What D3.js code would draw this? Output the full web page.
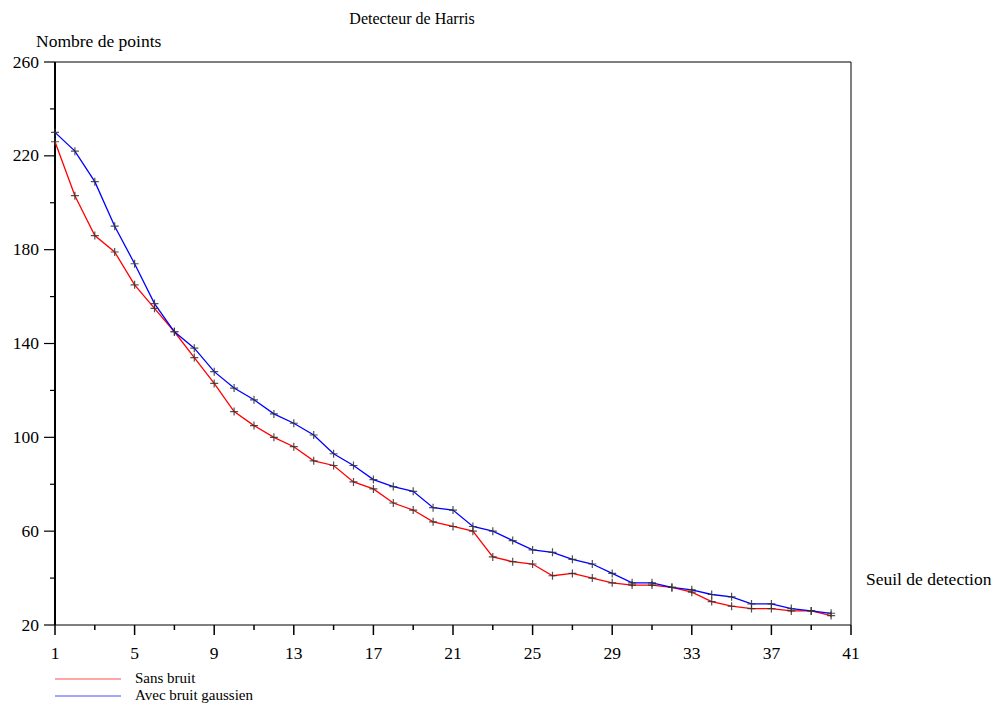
<!DOCTYPE html>
<html>
<head>
<meta charset="utf-8">
<script src="https://cdn.jsdelivr.net/npm/d3@7"></script>
<style>
  body { margin: 0; background: #fff; }
  svg text { font-family: "Liberation Serif", "DejaVu Serif", serif; fill: #000; }
</style>
</head>
<body>
<svg id="chart" width="1000" height="706"></svg>
<script>
const thresholds = d3.range(1, 41);
const sansBruit = [226, 203, 186, 179, 165, 155, 145, 134, 123, 111,
                   105, 100, 96, 90, 88, 81, 78, 72, 69, 64,
                   62, 60, 49, 47, 46, 41, 42, 40, 38, 37,
                   37, 36, 34, 30, 28, 27, 27, 26, 26, 24];
const avecBruit = [230, 222, 209, 190, 174, 157, 145, 138, 128, 121,
                   116, 110, 106, 101, 93, 88, 82, 79, 77, 70,
                   69, 62, 60, 56, 52, 51, 48, 46, 42, 38,
                   38, 36, 35, 33, 32, 29, 29, 27, 26, 25];
const xTickLabels = [1, 5, 9, 13, 17, 21, 25, 29, 33, 37, 41];
const yTickLabels = [20, 60, 100, 140, 180, 220, 260];
const seriesNames = ["Sans bruit", "Avec bruit gaussien"];
const seriesColors = ["#ff0000", "#0000ff"];

const svg = d3.select("#chart");
const x = d3.scaleLinear().domain([1, 41]).range([55, 851]);
const y = d3.scaleLinear().domain([20, 260]).range([625, 62]);
const FS = 17.5;

// frame top & right
svg.append("line").attr("x1", 55).attr("x2", 851).attr("y1", 62).attr("y2", 62)
  .attr("stroke", "#000").attr("stroke-width", 1);
svg.append("line").attr("x1", 851).attr("x2", 851).attr("y1", 62).attr("y2", 625)
  .attr("stroke", "#000").attr("stroke-width", 1);

// x axis
const xMinor = d3.range(1, 42, 2);
const gx = svg.append("g");
gx.append("line").attr("x1", 55).attr("x2", 851).attr("y1", 625).attr("y2", 625)
  .attr("stroke", "#000").attr("stroke-width", 1.2);
gx.selectAll("line.t").data(xMinor).join("line").attr("class", "t")
  .attr("x1", d => x(d)).attr("x2", d => x(d))
  .attr("y1", 625).attr("y2", d => xTickLabels.includes(d) ? 635 : 630)
  .attr("stroke", "#000").attr("stroke-width", 1.5);
gx.selectAll("text").data(xTickLabels).join("text")
  .attr("x", d => x(d)).attr("y", 659).attr("text-anchor", "middle")
  .attr("font-size", FS).text(d => d);

// y axis
const yMinor = d3.range(20, 261, 20);
const gy = svg.append("g");
gy.append("line").attr("x1", 55).attr("x2", 55).attr("y1", 62).attr("y2", 625)
  .attr("stroke", "#000").attr("stroke-width", 2);
gy.selectAll("line.t").data(yMinor).join("line").attr("class", "t")
  .attr("y1", d => y(d)).attr("y2", d => y(d))
  .attr("x1", 55).attr("x2", d => yTickLabels.includes(d) ? 44 : 50)
  .attr("stroke", "#000").attr("stroke-width", 1.2);
gy.selectAll("text").data(yTickLabels).join("text")
  .attr("x", 39).attr("y", d => y(d) + 5.5).attr("text-anchor", "end")
  .attr("font-size", FS).text(d => d);

// lines
const line = d3.line().x((d, i) => x(thresholds[i])).y(d => y(d));
[sansBruit, avecBruit].forEach((s, k) => {
  svg.append("path").datum(s).attr("d", line).attr("fill", "none")
    .attr("stroke", seriesColors[k]).attr("stroke-width", 1.3);
});
// markers
[sansBruit, avecBruit].forEach(s => {
  const g = svg.append("g");
  s.forEach((v, i) => {
    const cx = x(thresholds[i]), cy = y(v);
    g.append("path").attr("d", `M${cx - 4},${cy}H${cx + 4}M${cx},${cy - 4}V${cy + 4}`)
      .attr("stroke", "#333").attr("stroke-opacity", 0.85).attr("stroke-width", 1.2);
  });
});

// titles
svg.append("text").attr("x", 412).attr("y", 24).attr("text-anchor", "middle")
  .attr("font-size", 16).text("Detecteur de Harris");
svg.append("text").attr("x", 36).attr("y", 47).attr("font-size", FS).text("Nombre de points");
svg.append("text").attr("x", 866).attr("y", 585).attr("font-size", FS).text("Seuil de detection");

// legend
seriesNames.forEach((n, k) => {
  const ly = 679 + k * 17;
  svg.append("line").attr("x1", 55).attr("x2", 121).attr("y1", ly).attr("y2", ly)
    .attr("stroke", seriesColors[k]).attr("stroke-width", 1).attr("stroke-opacity", 0.7);
  svg.append("text").attr("x", 135).attr("y", ly + 4).attr("font-size", 15).text(n);
});
</script>
</body>
</html>
